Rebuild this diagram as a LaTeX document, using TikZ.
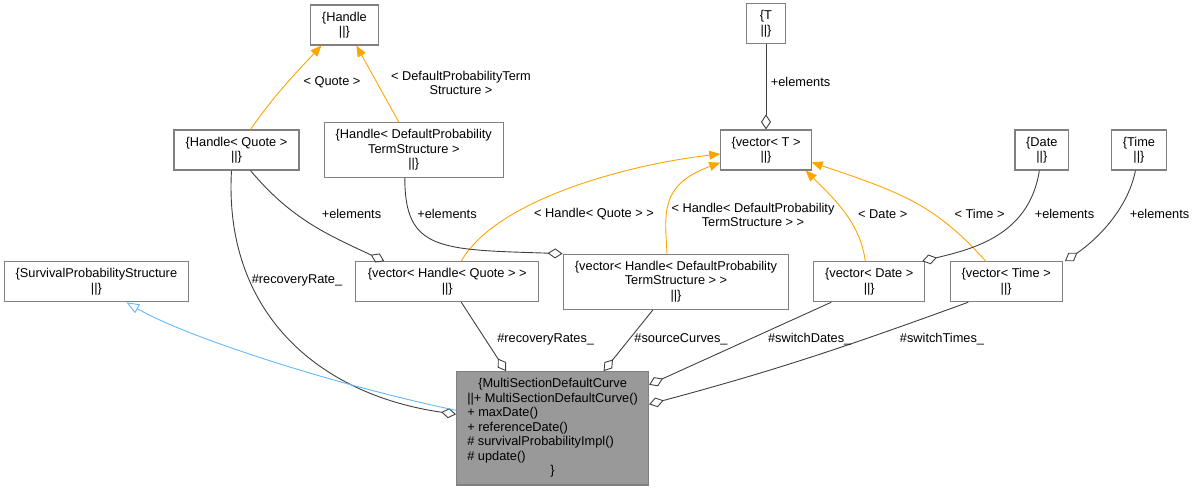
\documentclass[tikz,border=0pt]{standalone}
\usepackage{fontspec}
\setmainfont{Liberation Sans}
\usepackage{tikz}
\usetikzlibrary{arrows.meta,positioning}
\definecolor{edgegrey}{RGB}{64,64,64}
\definecolor{tplorange}{RGB}{255,165,0}
\definecolor{inhblue}{RGB}{99,184,255}
\definecolor{boxgrey}{RGB}{128,128,128}
\definecolor{focusgrey}{RGB}{153,153,153}

\begin{document}
\begin{tikzpicture}[x=1pt,y=1pt,
  classbox/.style={draw=boxgrey,line width=1.1pt,fill=white,align=center,minimum height=40pt,inner sep=3pt,font=\fontsize{12.8}{14.5}\selectfont},
  focusbox/.style={classbox,fill=focusgrey},
  elabel/.style={align=center,inner sep=0pt,font=\fontsize{12.8}{14.5}\selectfont},
  useline/.style={draw=edgegrey,line width=0.9pt,-{Diamond[open,length=15pt,width=10pt]}},
  tplline/.style={draw=tplorange,line width=0.9pt,-{Triangle[length=11pt,width=9pt]}},
  inhline/.style={draw=inhblue,line width=0.9pt,-{Triangle[open,length=13pt,width=10pt]}}]
\useasboundingbox (0,0) rectangle (1195,-491);
% top row
\node[classbox,minimum width=67.4pt] (handle) at (344.4,-25) {\{Handle\\||\}};
% second row
\node[classbox,minimum width=125pt] (hquote) at (236.5,-150) {\{Handle< Quote >\\||\}};
\node[classbox,minimum width=178.6pt,minimum height=54.6pt,right=24.4pt of hquote] (hdpts) {\{Handle< DefaultProbability\\TermStructure >\\||\}};
\node[classbox,minimum width=90.3pt] (vect) at (766,-150) {\{vector< T >\\||\}};
\node[classbox,minimum width=38.3pt,above=85pt of vect] (tparam) {\{T\\||\}};
\node[classbox,minimum width=53.8pt,right=202.7pt of vect] (date) {\{Date\\||\}};
\node[classbox,minimum width=55.4pt,right=41.4pt of date] (time) {\{Time\\||\}};
% third row
\node[classbox,minimum width=183.7pt] (sps) at (96.4,-281.7) {\{SurvivalProbabilityStructure\\||\}};
\node[classbox,minimum width=182.9pt,right=166.5pt of sps] (vhquote) {\{vector< Handle< Quote > >\\||\}};
\node[classbox,minimum width=225.7pt,minimum height=55pt,right=23.3pt of vhquote] (vhdpts) {\{vector< Handle< DefaultProbability\\TermStructure > >\\||\}};
\node[classbox,minimum width=110.8pt,right=23.9pt of vhdpts] (vdate) {\{vector< Date >\\||\}};
\node[classbox,minimum width=112.3pt,right=24.3pt of vdate] (vtime) {\{vector< Time >\\||\}};
% the class itself
\node[focusbox,minimum width=192pt,minimum height=113.3pt] (msdc) at (552.6,-428.3) {\begin{tabular}{@{}l@{}}
\multicolumn{1}{@{}c@{}}{\{MultiSectionDefaultCurve}\\
||+ MultiSectionDefaultCurve()\\
+ maxDate()\\
+ referenceDate()\\
\# survivalProbabilityImpl()\\
\# update()\\
\multicolumn{1}{@{}c@{}}{\}}
\end{tabular}};

% template instances
\draw[tplline] ([xshift=14pt]hquote.north) to[out=55,in=227] ([xshift=-23pt]handle.south);
\draw[tplline] ([xshift=-15pt]hdpts.north) -- ([xshift=12pt]handle.south);
\draw[tplline] ([xshift=14pt]vhquote.north) .. controls +(35,62) and +(-90,-10) .. ([yshift=-4pt]vect.west);
\draw[tplline] ([xshift=-9pt]vhdpts.north) .. controls +(-2,40) and +(-61,-22) .. ([yshift=-12.7pt]vect.west);
\draw[tplline] ([xshift=-4pt]vdate.north) .. controls +(-5,40) and +(25,-25) .. ([xshift=-6pt]vect.south east);
\draw[tplline] ([xshift=-20.5pt]vtime.north) .. controls +(-51,57) and +(89,-30) .. ([yshift=-12.3pt]vect.east);
\node[elabel] (lquote) at (332,-82) {< Quote >};
\node[elabel] (ldpts) at (461,-83) {< DefaultProbabilityTerm\\Structure >};
\node[elabel] (lvhq) at (594,-214) {< Handle< Quote > >};
\node[elabel] (lvhd) at (753,-214.7) {< Handle< DefaultProbability\\TermStructure > >};
\node[elabel] (lvdate) at (882.7,-214) {< Date >};
\node[elabel] (lvtime) at (979.6,-214) {< Time >};

% members
\draw[useline] (tparam.south) -- (vect.north);
\draw[useline] ([xshift=14pt]hquote.south) to[out=-50,in=155] ([xshift=-63pt]vhquote.north);
\draw[useline] ([xshift=-9pt]hdpts.south) .. controls +(0,-73) and +(-123,4) .. (vhdpts.north west);
\draw[useline] ([xshift=-2.5pt]date.south) .. controls +(-10,-65) and +(50,12) .. ([xshift=-3pt]vdate.north east);
\draw[useline] ([xshift=-3.5pt]time.south) .. controls +(-8,-40) and +(30,20) .. ([xshift=2pt]vtime.north east);
\draw[useline] ([xshift=-5pt]hquote.south) .. controls +(-8,-140) and +(-140,20) .. ([yshift=14pt]msdc.west);
\draw[useline] ([xshift=14pt]vhquote.south) -- ([xshift=-46.6pt]msdc.north);
\draw[useline] ([xshift=-23pt]vhdpts.south) -- ([xshift=51pt]msdc.north);
\draw[useline] ([xshift=-38pt]vdate.south) -- ([yshift=43.5pt]msdc.east);
\draw[useline] ([xshift=-38pt]vtime.south) to[out=200,in=15] ([yshift=24pt]msdc.east);
\node[elabel] (lelt) at (800.6,-82) {+elements};
\node[elabel] (lelhq) at (351.5,-214) {+elements};
\node[elabel] (lelhd) at (447,-214) {+elements};
\node[elabel] (leldate) at (1064.5,-214) {+elements};
\node[elabel] (leltime) at (1159.6,-214) {+elements};
\node[elabel] (lrate) at (297,-280.7) {\#recoveryRate\_};
\node[elabel] (lrates) at (545.7,-339.3) {\#recoveryRates\_};
\node[elabel] (lsrc) at (681,-339.3) {\#sourceCurves\_};
\node[elabel] (lsdates) at (809.7,-339.3) {\#switchDates\_};
\node[elabel] (lstimes) at (942,-339.3) {\#switchTimes\_};

% base class
\draw[inhline] ([yshift=18pt]msdc.west) .. controls +(-120,25) and +(60,-35) .. ([xshift=30pt]sps.south);
\end{tikzpicture}
\end{document}
